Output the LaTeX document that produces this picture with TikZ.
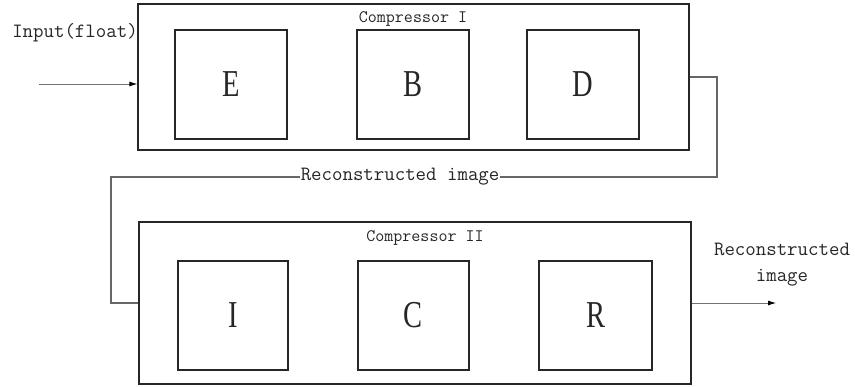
\documentclass[tikz,border=0pt]{standalone}
\usepackage{fontspec}
\usepackage{graphicx}
\newfontfamily\bigserif{Liberation Serif}
\usetikzlibrary{arrows.meta}
\begin{document}
\begin{tikzpicture}[x=1pt,y=-1pt,
  outerbox/.style={draw=black!85, line width=1.3pt, inner sep=0pt},
  innerbox/.style={draw=black!85, line width=1.3pt, inner sep=0pt, minimum height=109pt,
    font=\bigserif\fontsize{38}{38}\selectfont, text=black!85},
  title/.style={font=\ttfamily\fontsize{17.5}{18}\selectfont, text=black!85},
  lbl/.style={font=\ttfamily\fontsize{20.3}{26}\selectfont, text=black!85},
  conn/.style={draw=black!60, line width=1.8pt},
  arr/.style={draw=black!55, line width=0.8pt, -{Latex[length=8pt,width=5pt,color=black]}}
]
\useasboundingbox (0,0) rectangle (855,386);
% boxes
\node[outerbox, minimum width=551pt, minimum height=146pt] (c1) at (413.5,77) {};
\node[outerbox, minimum width=552pt, minimum height=162pt] (c2) at (415,303) {};
\node[title] (t1) at (413,19) {Compressor I};
\node[title] (t2) at (425,238) {Compressor II};
\node[innerbox, minimum width=112pt] (e) at (231,84.5) {\scalebox{0.75}[1]{E}};
\node[innerbox, minimum width=112pt] (b) at (413,84.5) {\scalebox{0.75}[1]{B}};
\node[innerbox, minimum width=112pt] (d) at (583,84.5) {\scalebox{0.75}[1]{D}};
\node[innerbox, minimum width=110pt] (i) at (233,315.5) {\scalebox{0.75}[1]{I}};
\node[innerbox, minimum width=111pt] (c) at (413.5,315.5) {\scalebox{0.75}[1]{C}};
\node[innerbox, minimum width=113pt] (r) at (595.5,315.5) {\scalebox{0.75}[1]{R}};
% connector between compressors
\coordinate (k1) at (717,77);
\coordinate (k2) at (717,177);
\coordinate (k3) at (111,177);
\coordinate (k4) at (111,303);
\draw[conn] (c1.east) -- (k1) -- (k2) -- node[pos=0.523, lbl, fill=white, inner sep=1pt] (mid) {Reconstructed image} (k3) -- (k4) -- (c2.west);
% input
\node[lbl] (inlbl) at (75,33) {Input(float)};
\coordinate (in) at (39,84);
\draw[arr] (in) -- (in -| c1.west);
% output
\coordinate (out) at (776,303);
\draw[arr] (c2.east) -- (out);
\node[lbl, align=center] (outlbl) at (782,265) {Reconstructed\\image};
\end{tikzpicture}
\end{document}
